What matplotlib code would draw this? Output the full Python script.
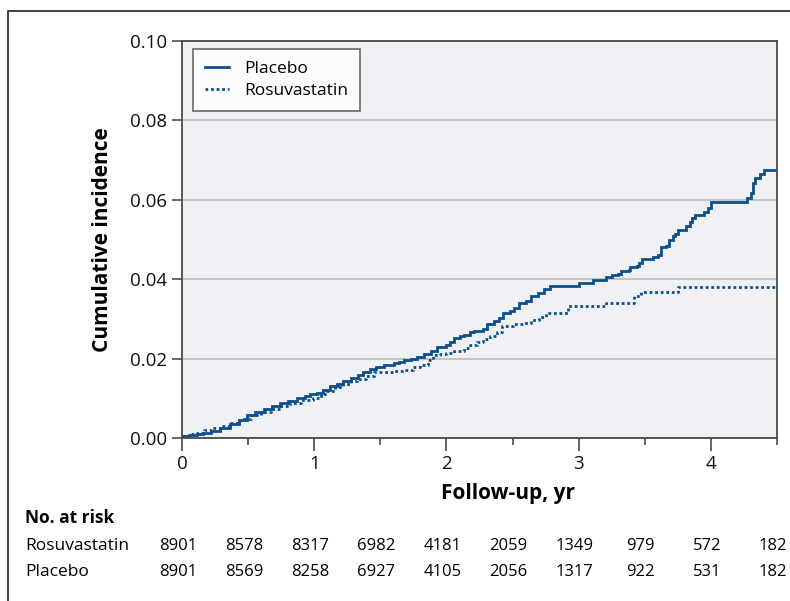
import matplotlib
matplotlib.use("Agg")
import matplotlib.pyplot as plt
import matplotlib.transforms as mtransforms
from matplotlib.patches import Rectangle
from matplotlib.ticker import MultipleLocator, FormatStrFormatter

# ---------------- data ----------------
placebo_t = [0.00, 0.05, 0.11, 0.16, 0.22, 0.29, 0.36, 0.43, 0.49, 0.55, 0.62, 0.68, 0.74, 0.80,
             0.87, 0.93, 0.97, 1.02, 1.07, 1.12, 1.17, 1.22, 1.28, 1.33, 1.37, 1.42, 1.47, 1.53,
             1.60, 1.64, 1.68, 1.73, 1.78, 1.83, 1.88, 1.93, 2.00, 2.03, 2.06, 2.10, 2.13, 2.18,
             2.21, 2.28, 2.31, 2.36, 2.40, 2.43, 2.48, 2.51, 2.55, 2.60, 2.64, 2.69, 2.74, 2.78,
             3.00, 3.04, 3.11, 3.15, 3.21, 3.25, 3.30, 3.32, 3.38, 3.39, 3.44, 3.46, 3.48, 3.56,
             3.60, 3.62, 3.66, 3.68, 3.71, 3.73, 3.75, 3.81, 3.84, 3.86, 3.88, 3.95, 3.98, 4.00,
             4.27, 4.30, 4.32, 4.33, 4.37, 4.40, 4.50]
placebo_v = [0.0005, 0.0007, 0.0009, 0.0012, 0.0017, 0.0024, 0.0035, 0.0046, 0.0058, 0.0066,
             0.0073, 0.0080, 0.0087, 0.0093, 0.0100, 0.0107, 0.0112, 0.0114, 0.0121, 0.0130,
             0.0137, 0.0144, 0.0151, 0.0158, 0.0165, 0.0173, 0.0180, 0.0184, 0.0188, 0.0192,
             0.0196, 0.0200, 0.0203, 0.0212, 0.0220, 0.0228, 0.0234, 0.0242, 0.0251, 0.0256,
             0.0260, 0.0268, 0.0270, 0.0274, 0.0287, 0.0295, 0.0303, 0.0314, 0.0320, 0.0328,
             0.0339, 0.0346, 0.0358, 0.0366, 0.0376, 0.0383, 0.0390, 0.0391, 0.0397, 0.0398,
             0.0405, 0.0410, 0.0413, 0.0421, 0.0423, 0.0430, 0.0432, 0.0442, 0.0450, 0.0455,
             0.0461, 0.0480, 0.0484, 0.0500, 0.0508, 0.0514, 0.0524, 0.0535, 0.0545, 0.0553,
             0.0562, 0.0570, 0.0580, 0.0594, 0.0605, 0.0618, 0.0643, 0.0655, 0.0665, 0.0675,
             0.0675]

rosuva_t = [0.00, 0.05, 0.11, 0.17, 0.23, 0.29, 0.36, 0.44, 0.52, 0.60, 0.67, 0.75, 0.82, 0.90,
            0.99, 1.05, 1.10, 1.16, 1.22, 1.28, 1.32, 1.39, 1.45, 1.52, 1.60, 1.68, 1.75, 1.80,
            1.86, 1.90, 1.95, 2.00, 2.06, 2.13, 2.18, 2.23, 2.28, 2.33, 2.38, 2.42, 2.50, 2.58,
            2.64, 2.70, 2.75, 2.87, 2.92, 3.17, 3.21, 3.38, 3.42, 3.47, 3.67, 3.75, 4.50]
rosuva_v = [0.0005, 0.0009, 0.0013, 0.0020, 0.0024, 0.0030, 0.0038, 0.0048, 0.0058, 0.0065,
            0.0072, 0.0080, 0.0089, 0.0095, 0.0102, 0.0110, 0.0119, 0.0128, 0.0137, 0.0144,
            0.0148, 0.0156, 0.0165, 0.0167, 0.0169, 0.0171, 0.0178, 0.0184, 0.0196, 0.0209,
            0.0211, 0.0213, 0.0219, 0.0226, 0.0234, 0.0243, 0.0250, 0.0258, 0.0268, 0.0281,
            0.0287, 0.0290, 0.0297, 0.0305, 0.0314, 0.0314, 0.0333, 0.0333, 0.0341, 0.0341,
            0.0358, 0.0369, 0.0369, 0.0380, 0.0380]

risk_times = [0, 0.5, 1, 1.5, 2, 2.5, 3, 3.5, 4, 4.5]
risk_rosuva = [8901, 8578, 8317, 6982, 4181, 2059, 1349, 979, 572, 182]
risk_placebo = [8901, 8569, 8258, 6927, 4105, 2056, 1317, 922, 531, 182]

# ---------------- style ----------------
LINE = "#0d4f8c"
BG = "#eff1f4"
GRID = "#c4c4c4"
SPINE = "#4a4a4a"
FONT = ["Open Sans", "DejaVu Sans"]

plt.rcParams["font.family"] = FONT

W, H = 790, 601
fig = plt.figure(figsize=(W / 100, H / 100), dpi=100)
fig.patch.set_facecolor("white")

# outer frame of the figure
fig.patches.append(Rectangle((8 / W, -0.05), 1.2, 1 - 11 / H + 0.05,
                             transform=fig.transFigure, fill=False,
                             edgecolor="#333333", linewidth=1.3, clip_on=False))

ax = fig.add_axes([182 / W, 1 - 438 / H, (777 - 182) / W, (438 - 41) / H])
ax.set_facecolor(BG)

ax.plot(placebo_t, placebo_v, drawstyle="steps-post", color=LINE, lw=2.0,
        label="Placebo", solid_joinstyle="miter")
ax.plot(rosuva_t, rosuva_v, drawstyle="steps-post", color=LINE, lw=2.0,
        linestyle=(0, (1.0, 1.0)), label="Rosuvastatin")

ax.set_xlim(0, 4.5)
ax.set_ylim(0, 0.10)
ax.xaxis.set_major_locator(MultipleLocator(1))
ax.xaxis.set_minor_locator(MultipleLocator(0.5))
ax.yaxis.set_major_locator(MultipleLocator(0.02))
ax.yaxis.set_major_formatter(FormatStrFormatter("%.2f"))
ax.grid(axis="y", color=GRID, lw=1.5)
ax.set_axisbelow(True)

for s in ax.spines.values():
    s.set_color(SPINE)
    s.set_linewidth(1.3)

ax.tick_params(axis="both", which="major", direction="out", color=SPINE,
               width=1.2, labelsize=13.5, labelcolor="#111111")
ax.tick_params(axis="x", which="major", length=9, pad=3)
ax.tick_params(axis="x", which="minor", length=5, width=1.2, color=SPINE)
ax.tick_params(axis="y", which="major", length=7, pad=4)

ax.set_ylabel("Cumulative incidence", fontsize=15, fontweight="bold", labelpad=12)
fig.text(508 / W, 1 - 493 / H, "Follow-up, yr", fontsize=15, fontweight="bold",
         ha="center", va="center")

leg = ax.legend(loc="upper left", bbox_to_anchor=(11 / 595, 1 - 8 / 397), fontsize=12.5,
                frameon=True, fancybox=False, handlelength=1.35, handletextpad=0.9,
                borderpad=0.7, labelspacing=0.3, borderaxespad=0)
leg.get_frame().set_edgecolor("#444444")
leg.get_frame().set_linewidth(1.2)
leg.get_frame().set_facecolor("white")

# number at risk table
fig.text(25 / W, 1 - 518 / H, "No. at risk", fontsize=12.5, fontweight="bold",
         ha="left", va="center")
fig.text(25 / W, 1 - 546 / H, "Rosuvastatin", fontsize=12.5, ha="left", va="center")
fig.text(25 / W, 1 - 572 / H, "Placebo", fontsize=12.5, ha="left", va="center")

trans = mtransforms.blended_transform_factory(ax.transData, fig.transFigure)
offset = mtransforms.ScaledTranslation(-4 / 100, 0, fig.dpi_scale_trans)
for t, r, p in zip(risk_times, risk_rosuva, risk_placebo):
    fig.text(t, 1 - 546 / H, f"{r}", transform=trans + offset, fontsize=12,
             ha="center", va="center")
    fig.text(t, 1 - 572 / H, f"{p}", transform=trans + offset, fontsize=12,
             ha="center", va="center")

fig.savefig("out.png", dpi=100)
